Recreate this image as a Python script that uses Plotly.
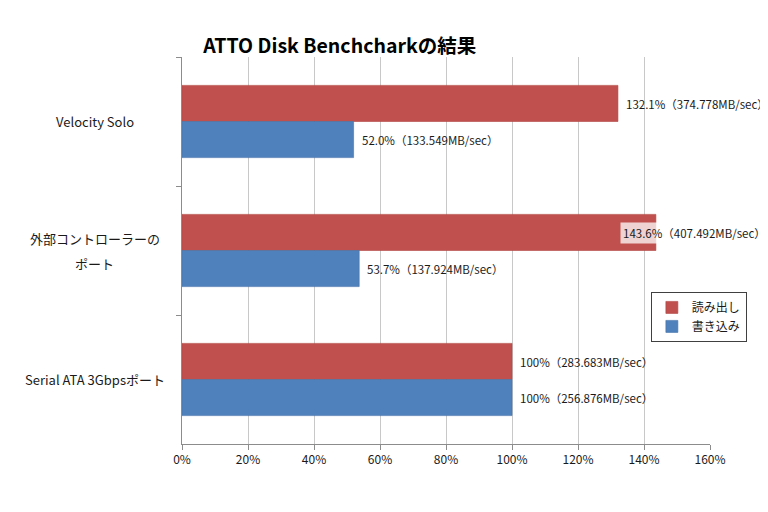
import plotly.graph_objects as go

# data
categories = ["Velocity Solo", "外部コントローラーの<br>ポート", "Serial ATA 3Gbpsポート"]
read_pct = [132.1, 143.6, 100]
write_pct = [52.0, 53.7, 100]
read_mbs = [374.778, 407.492, 283.683]
write_mbs = [133.549, 137.924, 256.876]
x_ticks = [0, 20, 40, 60, 80, 100, 120, 140, 160]

RED = "#C0504D"
BLUE = "#4F81BD"
FONT = "Noto Sans CJK JP"


def pct_label(p, mbs):
    p_txt = "100%" if p == 100 else f"{p:.1f}%"
    return f"{p_txt}（{mbs:.3f}MB/sec）"


fig = go.Figure()
fig.add_trace(go.Bar(
    y=categories, x=read_pct, orientation="h", name="読み出し",
    marker=dict(color=RED, line=dict(color="#B04542", width=0.6))
))
fig.add_trace(go.Bar(
    y=categories, x=write_pct, orientation="h", name="書き込み",
    marker=dict(color=BLUE, line=dict(color="#4472A8", width=0.6))
))

# value labels next to the bar ends
half = 0.1395
for i, cat in enumerate(categories):
    for vals, mbs, off in ((read_pct, read_mbs, -half), (write_pct, write_mbs, half)):
        v = vals[i]
        clipped = v > 140
        fig.add_annotation(
            x=v, y=i + off, xref="x", yref="y",
            text=pct_label(v, mbs[i]), showarrow=False,
            xanchor="left", xshift=-36 if clipped else 5,
            font=dict(size=11.5, color="#1a1a1a", family=FONT),
            bgcolor="rgba(255,255,255,0.75)" if clipped else None,
            borderpad=2,
        )
    # centered category labels on the left (wide line spacing like Excel)
    lines = cat.split("<br>")
    for j, line in enumerate(lines):
        fig.add_annotation(
            x=-0.165, y=i, xref="paper", yref="y", text=line, showarrow=False,
            xanchor="center", yshift=(len(lines) - 1) * 12.5 - j * 25,
            font=dict(size=13, color="#1a1a1a", family=FONT),
        )

fig.update_layout(
    width=768, height=512,
    barmode="group", bargap=0.44, bargroupgap=0,
    plot_bgcolor="white", paper_bgcolor="white",
    margin=dict(l=174, r=66, t=49, b=76),
    font=dict(family=FONT, color="#1a1a1a"),
    title=dict(text="<b>ATTO Disk Benchcharkの結果</b>", x=0.432, xanchor="center",
               y=0.925, yanchor="middle", font=dict(size=19.5, color="black", family=FONT)),
    legend=dict(x=0.888, y=0.393, xanchor="left", yanchor="top",
                bgcolor="white", bordercolor="#404040", borderwidth=1,
                font=dict(size=12, family=FONT), itemwidth=30,
                tracegroupgap=0, traceorder="normal"),
    showlegend=True,
)

fig.update_xaxes(
    range=[0, 160], tickvals=x_ticks, ticktext=[f"{t}%" for t in x_ticks],
    showgrid=True, gridcolor="#C8C8C8", gridwidth=1,
    showline=True, linecolor="#8C8C8C", linewidth=1,
    ticks="outside", ticklen=5, tickcolor="#8C8C8C",
    tickfont=dict(size=12, color="#1a1a1a"), zeroline=False,
)
fig.update_yaxes(
    categoryorder="array", categoryarray=categories, autorange="reversed",
    showticklabels=False, showgrid=False,
    showline=True, linecolor="#8C8C8C", linewidth=1,
    ticks="outside", ticklen=5, tickcolor="#8C8C8C", tickson="boundaries",
)

fig.write_html("out.html")
